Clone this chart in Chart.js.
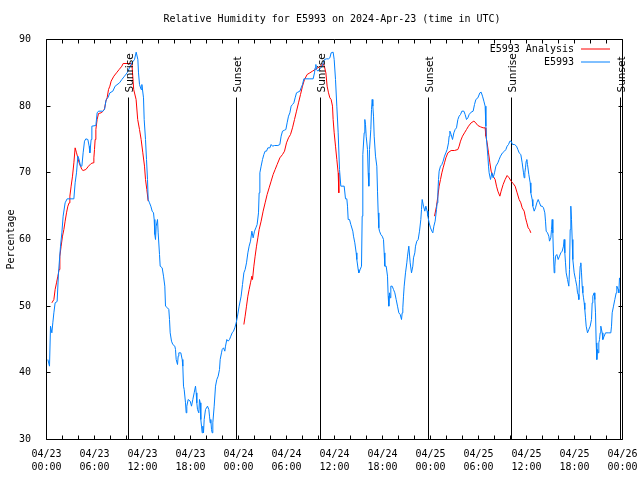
<!DOCTYPE html>
<html>
<head>
<meta charset="utf-8">
<script src="https://cdn.jsdelivr.net/npm/chart.js@4.4.1/dist/chart.umd.min.js"></script>
<style>
html,body{margin:0;padding:0;background:#fff;}
#wrap{width:640px;height:480px;}
</style>
</head>
<body>
<div id="wrap"><canvas id="c" width="640" height="480"></canvas></div>
<script>
// ---------- data ----------
const chartTitle = 'Relative Humidity for E5993 on 2024-Apr-23 (time in UTC)';
const yAxisTitle = 'Percentage';
const seriesNames = ['E5993 Analysis', 'E5993'];

const tickHours = [0, 6, 12, 18, 24, 30, 36, 42, 48, 54, 60, 66, 72];
const tickDates = ['04/23','04/23','04/23','04/23','04/24','04/24','04/24','04/24','04/25','04/25','04/25','04/25','04/26'];
const tickTimes = ['00:00','06:00','12:00','18:00','00:00','06:00','12:00','18:00','00:00','06:00','12:00','18:00','00:00'];

const sunEventHours = [10.25, 23.75, 34.25, 47.75, 58.125, 71.75];
const sunEventNames = ['Sunrise','Sunset','Sunrise','Sunset','Sunrise','Sunset'];

const stationHours = [0.17,0.375,0.5,0.67,0.79,0.92,1.08,1.33,1.5,1.75,1.92,2.08,2.33,2.58,3.42,3.58,3.75,3.92,4.08,4.25,4.42,4.58,4.75,4.92,5.17,5.33,5.42,5.58,5.67,6.17,6.33,6.5,7.04,7.25,7.46,7.67,7.92,8.29,8.58,9.125,9.42,9.75,10.08,10.375,10.67,11.0,11.21,11.42,11.5,11.625,11.83,11.92,12.125,12.21,12.375,12.5,12.625,12.71,12.875,13.04,13.21,13.375,13.46,13.54,13.625,13.71,13.875,13.96,14.125,14.21,14.46,14.625,14.79,14.875,15.125,15.29,15.375,15.46,15.625,15.79,16.04,16.125,16.21,16.375,16.46,16.54,16.79,16.96,17.04,17.125,17.21,17.375,17.46,17.54,17.71,17.96,18.125,18.29,18.46,18.625,18.71,18.79,18.875,19.04,19.125,19.21,19.29,19.375,19.46,19.54,19.625,19.71,19.875,20.125,20.29,20.375,20.46,20.54,20.625,20.71,20.79,20.96,21.125,21.29,21.46,21.625,21.71,21.875,21.96,22.125,22.29,22.375,22.54,22.71,22.875,23.04,23.21,23.375,23.54,23.71,23.875,24.08,24.33,24.5,24.67,24.83,25.0,25.17,25.33,25.5,25.67,25.83,26.0,26.17,26.33,26.5,26.58,26.67,26.83,27.0,27.17,27.33,27.5,27.67,27.92,28.08,28.25,28.5,28.92,29.17,29.33,29.5,29.75,29.92,30.08,30.25,30.42,30.58,30.75,30.92,31.08,31.25,31.42,31.67,31.83,32.0,32.17,32.92,33.33,33.5,33.58,33.67,33.75,33.92,34.25,34.5,34.58,34.75,35.0,35.25,35.42,35.58,35.83,35.875,35.96,36.125,36.29,36.46,36.625,36.79,37.21,37.375,37.54,37.625,37.71,37.875,38.04,38.29,38.375,38.54,38.71,38.79,38.96,39.04,39.21,39.375,39.46,39.54,39.71,39.79,39.875,39.96,40.125,40.21,40.29,40.375,40.54,40.625,40.71,40.79,40.875,40.96,41.125,41.29,41.375,41.46,41.54,41.625,41.79,41.96,42.125,42.21,42.29,42.46,42.625,42.71,42.79,42.875,42.96,43.04,43.21,43.375,43.54,43.71,43.875,44.04,44.21,44.375,44.46,44.54,44.625,44.71,44.875,45.04,45.125,45.29,45.46,45.625,45.79,45.875,46.04,46.125,46.29,46.46,46.625,46.79,46.875,46.96,47.125,47.29,47.42,47.58,47.67,47.83,48.0,48.17,48.29,48.42,48.58,48.75,48.83,48.92,49.0,49.08,49.25,49.42,49.58,49.75,49.92,50.08,50.25,50.33,50.42,50.58,50.75,50.92,51.08,51.25,51.42,51.58,51.75,51.92,52.17,52.33,52.5,52.67,52.83,53.08,53.33,53.5,53.67,53.92,54.17,54.33,54.5,54.67,54.83,54.92,55.0,55.17,55.25,55.33,55.5,55.67,55.83,56.0,56.17,56.42,56.58,56.75,57.0,57.25,57.42,57.58,57.75,57.92,58.08,58.25,58.5,58.75,58.92,59.08,59.29,59.46,59.625,59.71,59.79,59.875,59.96,60.04,60.125,60.29,60.46,60.54,60.71,60.79,60.96,61.125,61.29,61.46,61.625,61.79,61.96,62.125,62.29,62.375,62.46,62.625,62.79,62.875,63.04,63.125,63.21,63.29,63.375,63.46,63.54,63.625,63.79,63.96,64.125,64.29,64.46,64.625,64.71,64.79,64.875,64.96,65.125,65.29,65.375,65.46,65.54,65.625,65.71,65.79,65.96,66.125,66.29,66.375,66.46,66.54,66.625,66.71,66.79,66.875,66.96,67.04,67.125,67.21,67.29,67.375,67.46,67.625,67.79,67.96,68.125,68.21,68.29,68.46,68.54,68.625,68.71,68.79,68.875,68.96,69.04,69.125,69.21,69.29,69.46,69.54,69.71,69.875,70.21,70.54,70.625,70.71,70.875,71.04,71.21,71.29,71.46,71.54,71.625];
const stationValues = [42,41,47,46,47.5,49,50.5,50.7,55,59,61,63.5,65.5,66.1,66.1,68.5,70,72.5,72,71,71,73,74.75,75.1,75,74,73,75,77,77.1,79,79.25,79.25,79.5,81,81.25,82,82.25,83,83.5,84,84.5,85,85.75,86.5,87,88.1,87,85,83.25,82.5,83.25,81.25,78,75,72,69,66,65.5,65,64.25,64,63,60.75,60,62,63,61,57.75,56,55.75,54.5,53,50,49.75,49.5,48,46,44.75,44.25,44,43.5,42,41.25,42.5,43,43,42,41,38,37.5,35.5,34,35,36,35.75,35,36,37,38,37,35.5,34.5,34,36,35.5,33,32,31,32,31,33,34.5,35,34.5,33.5,32.5,33,31.5,31,32.5,35,38,39,39.5,40.5,42,43,43.5,43.75,43.25,44,45,44.75,45,45.5,46,46.25,46.75,47.5,48.5,50,51.5,53.25,55,55.5,56.5,58,59,59.75,61.25,60.25,61.25,61.75,62.25,64,67,70,71,72,72.75,73.25,73.25,73.75,73.75,74.25,74,74.1,74.1,74.25,75.5,76.25,76.4,76.5,77.5,78.5,79,80,80.25,80.5,81.25,82,82.1,82.25,82.75,83.25,84.1,84.1,84.1,85,85.75,86.25,85.5,85.25,85.75,86,86.5,87,87.1,87.1,87.25,88,88.1,88.1,87,84,80,76,70.5,68,68,66.1,66.1,65,63,63,62.25,61.25,60.5,59.5,58,57,55.5,55,55.5,56,63.5,72.75,76,78,77.25,75.5,73.5,70,68,73.5,76.5,79.5,81,80,78.5,75.5,72.5,71,67.25,64,61.75,61.25,60.75,60.5,60,58,56,56,54.5,51.5,50,52,51.25,53,53,52.5,52,51,50,49,48.75,48,49,49.75,51.5,53,55,56.5,57.5,59,56.5,55,56,57.25,58,59,59.75,60,61.25,63,64.5,66,65,64.25,65,64.25,63.5,62.5,61.75,61.25,61,62,62.75,64.5,65.5,67,69,70.25,71,71.25,71.75,72.5,73,73.5,74.5,75.5,76.25,75.75,75,76,76.5,76.75,78,78.5,78.75,79.25,79.25,78.75,78,78.25,78.75,79.1,79.25,80.25,81,81.25,82,82.1,81.5,80.75,80,77,75,72.5,71,70,69,70,69.25,70,71,71.5,72,72.5,73,73.25,73.5,74,74.25,74.75,74.75,74.25,74.25,74,73.5,73,72.75,71.5,70,69.25,70,70.75,71.75,72,71.25,69.75,68.5,67,66,65,64.25,64.75,65.5,66,65.5,65,65,64.75,64,62.75,61.25,61,60.5,59.75,60.25,61.5,63,61,57.5,55,56,57.5,57.75,57,57.5,58,58.25,59,60,58,56.5,55,54,53,55.5,61.5,65,63,60,57,55,54,53,52,51.75,51,54,56,56.5,55,53,52,51.25,50.5,49.5,48.25,47,46,46.5,47,48,50.5,51.5,52,51,49,44.5,42,43.5,43,44.5,45,46,47,46,45,45.5,46,46,46,47,49,50,51,52,53,52.5,52,54.25];

const analysisHours = [0.67,0.92,1.08,1.25,1.42,1.58,1.67,1.83,2.0,2.17,2.33,2.5,2.67,2.83,2.92,3.08,3.25,3.42,3.58,3.75,3.92,4.08,4.25,4.42,4.58,4.92,5.25,5.58,5.83,5.92,6.0,6.08,6.17,6.33,6.5,6.83,7.08,7.25,7.42,7.58,7.75,7.92,8.08,8.42,8.75,9.08,9.42,9.58,10.67,10.9,11.2,11.4,11.625,11.83,12.04,12.25,12.375,12.54,12.71,
  13,
  24.67,24.83,25.0,25.17,25.33,25.5,25.67,25.75,25.92,26.08,26.25,26.42,26.58,26.83,27.08,27.33,27.58,27.83,28.08,28.33,28.58,28.83,29.17,29.5,29.75,30.0,30.25,30.5,30.75,31.0,31.25,31.5,31.75,32.0,32.25,32.58,32.92,33.25,33.58,33.92,34.25,34.58,34.75,34.92,35.08,35.25,35.42,35.58,35.75,35.83,35.96,36.125,36.29,36.46,36.54,
  37,
  48.5,48.75,48.92,49.08,49.25,49.42,49.58,49.75,49.92,50.17,50.58,51.0,51.42,51.58,51.75,52.0,52.25,52.5,52.75,53.08,53.42,53.58,53.92,54.25,54.58,54.83,54.92,55.08,55.25,55.42,55.58,55.83,56.08,56.25,56.42,56.67,56.83,57.08,57.33,57.58,57.83,58.08,58.33,58.58,58.83,59.08,59.29,59.46,59.71,59.875,60.04,60.21,60.375,60.54];
const analysisValues = [50.5,51,52.5,53.5,54.5,55.5,57.5,59,60.5,61.5,62.75,64,65,65.5,66.5,68,69.5,71.5,73.75,73,72.25,71.5,71,70.5,70.35,70.5,71,71.4,71.5,72.25,73.5,75,76.5,78,78.9,79,79.25,79.6,80.75,81.25,82.5,83,83.75,84.5,85,85.5,86,86.4,86.4,82.5,81,78,76.5,75,73,71,69,67.5,65.75,
  null,
  47.25,48.5,50,51.5,52.5,53.5,54.5,54,56,57.5,59,60.25,61.5,62.75,64.25,65.5,66.75,67.75,68.75,69.75,70.5,71.25,72.25,72.75,73.25,74.5,75.25,75.75,76.75,78,79.25,80.5,81.75,83,84,84.75,85,85.25,85.5,85.75,86,86.4,85.9,85,83,82,81.25,81,80,78,76,74,72,70,67,
  null,
  63.5,65,66.5,68,69,70,70.75,71.5,72.25,73,73.35,73.35,73.5,74,74.75,75.5,76,76.5,77,77.5,77.75,77.6,77.1,76.9,76.75,76.75,75.5,74.5,73,71.5,70.25,69.5,69,68,67.25,66.5,67.25,68.25,69,69.6,69.25,68.75,68.4,68,67,66,65.5,64.75,64.25,63.25,62.5,61.75,61.5,61];

// ---------- styles ----------
const MONO = '"DejaVu Sans Mono", "Liberation Mono", monospace';
const SANS = '"DejaVu Sans", sans-serif';
const RED = '#ff0000';
const BLUE = '#0080ff';
const sunLineTop = 81.3;

const toPoints = (xs, ys) => xs.map((h, i) => ({x: h, y: ys[i]}));

const datasets = [
  {label: seriesNames[1], data: toPoints(stationHours, stationValues), borderColor: BLUE, borderWidth: 1, pointRadius: 0, tension: 0, order: 0, inLegend: true},
  {label: seriesNames[0], data: toPoints(analysisHours, analysisValues), borderColor: RED, borderWidth: 1, pointRadius: 0, tension: 0, spanGaps: false, order: 1, inLegend: true}
];
sunEventHours.forEach((h) => {
  datasets.push({label: '', data: [{x: h, y: 30}, {x: h, y: sunLineTop}], borderColor: '#000', borderWidth: 1, pointRadius: 0, order: 2, inLegend: false});
});

const decor = {
  id: 'decor',
  afterDraw(chart) {
    const {ctx, chartArea: a, scales: {x, y}} = chart;
    ctx.save();
    // title
    ctx.fillStyle = '#000';
    ctx.font = '10px ' + MONO;
    ctx.textAlign = 'center';
    ctx.textBaseline = 'middle';
    ctx.fillText(chartTitle, 332, 19.5);

    // frame and inward ticks (mirrored)
    ctx.strokeStyle = '#000';
    ctx.lineWidth = 1;
    ctx.beginPath();
    ctx.rect(a.left, a.top, a.right - a.left, a.bottom - a.top);
    for (let h = x.min; h <= x.max; h += 2) {
      const px = Math.round(x.getPixelForValue(h) - 0.5) + 0.5;
      ctx.moveTo(px, a.bottom); ctx.lineTo(px, a.bottom - 4);
      ctx.moveTo(px, a.top); ctx.lineTo(px, a.top + 4);
    }
    y.ticks.forEach((t) => {
      const py = Math.round(y.getPixelForValue(t.value) - 0.5) + 0.5;
      ctx.moveTo(a.left, py); ctx.lineTo(a.left + 4, py);
      ctx.moveTo(a.right, py); ctx.lineTo(a.right - 4, py);
    });
    ctx.stroke();

    // sunrise / sunset labels
    ctx.font = '10.5px ' + SANS;
    ctx.textAlign = 'left';
    ctx.textBaseline = 'alphabetic';
    sunEventHours.forEach((h, i) => {
      const px = x.getPixelForValue(h);
      const py = y.getPixelForValue(sunLineTop) - 5;
      ctx.save();
      ctx.translate(px + 4.5, py);
      ctx.rotate(-Math.PI / 2);
      ctx.fillText(sunEventNames[i], 0, 0);
      ctx.restore();
    });

    // legend (inside, top right)
    ctx.font = '10px ' + MONO;
    ctx.textAlign = 'right';
    ctx.textBaseline = 'middle';
    const legendItems = chart.data.datasets.filter((d) => d.inLegend)
      .sort((p, q) => seriesNames.indexOf(p.label) - seriesNames.indexOf(q.label));
    legendItems.forEach((d, i) => {
      const ly = 49.5 + i * 13;
      ctx.fillStyle = '#000';
      ctx.fillText(d.label, 574, ly);
      ctx.strokeStyle = d.borderColor;
      ctx.beginPath();
      ctx.moveTo(581, ly - 0.5);
      ctx.lineTo(610, ly - 0.5);
      ctx.stroke();
    });
    ctx.restore();
  }
};

new Chart(document.getElementById('c'), {
  type: 'line',
  data: {datasets},
  options: {
    responsive: false,
    animation: false,
    devicePixelRatio: 1,
    layout: {padding: {top: 39.5, right: 17.5, left: 0, bottom: 0}},
    plugins: {legend: {display: false}, title: {display: false}, tooltip: {enabled: false}},
    scales: {
      x: {
        type: 'linear', min: 0, max: 72,
        grid: {display: false},
        border: {display: false},
        ticks: {
          stepSize: 6, autoSkip: false, maxRotation: 0, padding: 0.75, color: '#000',
          font: {family: MONO, size: 10, lineHeight: 1.25},
          callback: (v) => { const i = tickHours.indexOf(v); return i < 0 ? '' : [tickDates[i], tickTimes[i]]; }
        },
        afterFit: (s) => { s.height = 40.5; s.paddingLeft = 0; s.paddingRight = 0; }
      },
      y: {
        type: 'linear', min: 30, max: 90,
        grid: {display: false},
        border: {display: false},
        ticks: {stepSize: 10, padding: 7.5, color: '#000', font: {family: MONO, size: 10}},
        title: {display: true, text: yAxisTitle, color: '#000', font: {family: MONO, size: 10}, padding: {top: 5, bottom: 0}},
        afterFit: (s) => { s.width = 46.5; s.paddingTop = 0; s.paddingBottom = 0; }
      }
    }
  },
  plugins: [decor]
});
</script>
</body>
</html>
